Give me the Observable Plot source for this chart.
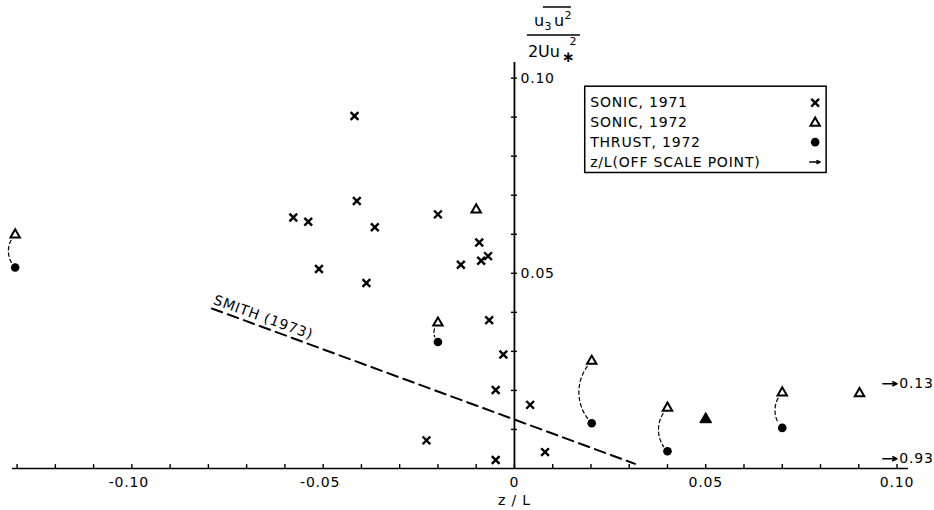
<!DOCTYPE html>
<html>
<head>
<meta charset="utf-8">
<script src="https://cdn.jsdelivr.net/npm/d3@7"></script>
<script src="https://cdn.jsdelivr.net/npm/@observablehq/plot@0.6"></script>
<style>
  html, body { margin: 0; padding: 0; background: #fff; }
</style>
</head>
<body>
<div id="chart"></div>
<script>
// ---------------- data ----------------
const sonic71Z = [-0.0418, -0.0578, -0.0539, -0.0412, -0.0365, -0.0511, -0.0387, -0.0200, -0.0092, -0.0140, -0.0087, -0.0069, -0.0066, -0.0029, -0.0049, -0.0230, -0.0049, 0.0041, 0.0080];
const sonic71V = [0.0903, 0.0643, 0.0632, 0.0685, 0.0618, 0.0511, 0.0475, 0.0651, 0.0579, 0.0522, 0.0532, 0.0544, 0.0380, 0.0292, 0.0201, 0.0072, 0.0022, 0.0163, 0.0042];

const sonic72Z = [-0.1305, -0.0100, -0.0200, 0.0202, 0.0400, 0.0700, 0.0902];
const sonic72V = [0.0599, 0.0663, 0.0373, 0.0275, 0.0155, 0.0194, 0.0192];

const thrust72Z = [-0.1305, -0.0200, 0.0202, 0.0400, 0.0700];
const thrust72V = [0.0515, 0.0324, 0.0116, 0.0044, 0.0104];

// SONIC 1972 and THRUST 1972 at the same spot (drawn as a filled triangle)
const coincidentZ = [0.0500];
const coincidentV = [0.0126];

const smithZ = [-0.0791, 0.0315];
const smithV = [0.0410, 0.0012];
const smithLabel = ["SMITH (1973)"];

const offScaleV = [0.0217, 0.0025];
const offScaleLabels = ["0.13", "0.93"];

const legendLabels = ["SONIC, 1971", "SONIC, 1972", "THRUST, 1972", "z/L(OFF SCALE POINT)"];

const xTickValues = [-0.13, -0.12, -0.11, -0.10, -0.09, -0.08, -0.07, -0.06, -0.05, -0.04, -0.03, -0.02, -0.01, 0, 0.01, 0.02, 0.03, 0.04, 0.05, 0.06, 0.07, 0.08, 0.09, 0.10];
const xTickLabelValues = [-0.10, -0.05, 0, 0.05, 0.10];
const xTickLabels = ["-0.10", "-0.05", "0", "0.05", "0.10"];
const yTickValues = [0.01, 0.02, 0.03, 0.04, 0.05, 0.06, 0.07, 0.08, 0.09, 0.10];
const yTickLabelValues = [0.05, 0.10];
const yTickLabels = ["0.05", "0.10"];
const xAxisLabel = ["z / L"];

// ---------------- build tables ----------------
const sonic71 = sonic71Z.map((z, i) => ({z, v: sonic71V[i]}));
const sonic72 = sonic72Z.map((z, i) => ({z, v: sonic72V[i]}));
const thrust72 = thrust72Z.map((z, i) => ({z, v: thrust72V[i]}));
const coincident = coincidentZ.map((z, i) => ({z, v: coincidentV[i]}));
const smith = smithZ.map((z, i) => ({z, v: smithV[i]}));
const pairs = thrust72.map(t => {
  const s = sonic72.find(d => d.z === t.z);
  return s ? {z: t.z, v1: s.v, v2: t.v} : null;
}).filter(Boolean);
const offScale = offScaleV.map((v, i) => ({v, label: offScaleLabels[i]}));
const xTickLabelData = xTickLabelValues.map((x, i) => ({x, label: xTickLabels[i]}));
const yTickLabelData = yTickLabelValues.map((y, i) => ({y, label: yTickLabels[i]}));

// ---------------- layout / style ----------------
const FONT = "DejaVu Sans";
const xDomain = [-0.1312, 0.103];
const yTop = 0.104;

const timesStyle = {symbol: "times", r: 3.6, stroke: "black", strokeWidth: 2.4};
const triStyle = {symbol: "triangle", r: 3.5, fill: "white", stroke: "black", strokeWidth: 2};
const dotStyle = {symbol: "circle", r: 4.3, fill: "black", stroke: "none"};

// legend placement (data units)
const legBox = {x1: 0.0185, x2: 0.0816, y1: 0.0757, y2: 0.0978};
const legRowV = [0.0937, 0.0885, 0.0836, 0.0785];
const legTextX = 0.0198;
const legSymX = 0.0786;

// y-axis title (a fraction) drawn relative to the y axis position
function yTitle(index, scales) {
  const x0 = scales.x(0);
  const g = d3.create("svg:g")
    .attr("font-family", FONT)
    .attr("fill", "black")
    .attr("text-anchor", "start")
    .style("letter-spacing", "0px");
  const t = (dx, y, s, size) => g.append("text")
    .attr("x", x0 + dx).attr("y", y).attr("font-size", size).text(s);
  t(20, 26, "u", 16);
  t(30.5, 30, "3", 11);
  t(40, 26, "u", 16);
  t(50.5, 19, "2", 11);
  g.append("line").attr("x1", x0 + 29).attr("x2", x0 + 57).attr("y1", 7).attr("y2", 7)
    .attr("stroke", "black").attr("stroke-width", 1.5);
  g.append("line").attr("x1", x0 + 13).attr("x2", x0 + 66).attr("y1", 35).attr("y2", 35)
    .attr("stroke", "black").attr("stroke-width", 1.5);
  t(14, 57, "2Uu", 16);
  t(48, 62, "\u2217", 15).attr("font-weight", "bold");
  t(55.5, 45, "2", 11);
  return g.node();
}

const chart = Plot.plot({
  width: 934,
  height: 510,
  marginLeft: 12,
  marginRight: 26,
  marginTop: 62,
  marginBottom: 42,
  x: {domain: xDomain, axis: null},
  y: {domain: [0, yTop], axis: null},
  style: {fontFamily: FONT, fontSize: "14px", letterSpacing: "0.8px", background: "white", color: "black", overflow: "visible"},
  marks: [
    // axes
    Plot.ruleY([0], {x1: xDomain[0], x2: xDomain[1], stroke: "black", strokeWidth: 1.6}),
    Plot.ruleX(xTickValues, {x: d => d, y1: 0, y2: 0.001, stroke: "black", strokeWidth: 1.4}),
    Plot.text(xTickLabelData.filter(d => d.x < 0), {x: "x", y: 0, text: "label", dy: 14, dx: -3, fontSize: 14, fill: "black"}),
    Plot.text(xTickLabelData.filter(d => d.x >= 0), {x: "x", y: 0, text: "label", dy: 14, fontSize: 14, fill: "black"}),
    Plot.text(xAxisLabel, {x: 0, y: 0, text: d => d, dy: 32, fontSize: 14, fill: "black"}),
    Plot.ruleX([0], {y1: 0, y2: yTop, stroke: "black", strokeWidth: 1.8}),
    Plot.ruleY(yTickValues, {y: d => d, x1: -0.0008, x2: 0.0008, stroke: "black", strokeWidth: 1.4}),
    Plot.text(yTickLabelData, {x: 0, y: "y", text: "label", dx: 6, textAnchor: "start", fontSize: 14, fill: "black"}),
    yTitle,

    // Smith (1973)
    Plot.line(smith, {x: "z", y: "v", stroke: "black", strokeWidth: 2, strokeDasharray: "11,6"}),
    Plot.text(smithLabel, {x: -0.0785, y: 0.0433, text: d => d, rotate: 20, textAnchor: "start", fontSize: 14, fill: "black"}),

    // connectors between SONIC 1972 and THRUST 1972 at the same run
    Plot.arrow(pairs, {x1: "z", y1: "v1", x2: "z", y2: "v2", bend: -45, headLength: 0,
      insetStart: 7, insetEnd: 6, stroke: "black", strokeWidth: 1.2, strokeDasharray: "3.5,3"}),

    // data points
    Plot.dot(sonic71, {x: "z", y: "v", ...timesStyle}),
    Plot.dot(sonic72, {x: "z", y: "v", ...triStyle}),
    Plot.dot(thrust72, {x: "z", y: "v", ...dotStyle}),
    Plot.dot(coincident, {x: "z", y: "v", symbol: "triangle", r: 4.4, fill: "black", stroke: "black", strokeWidth: 1}),

    // off-scale points
    Plot.arrow(offScale, {x1: 0.0963, x2: 0.1000, y1: "v", y2: "v", headLength: 6, headAngle: 50, stroke: "black", strokeWidth: 1.5}),
    Plot.text(offScale, {x: 0.1006, y: "v", text: "label", textAnchor: "start", fontSize: 14, fill: "black"}),

    // legend
    Plot.rect([0], {...legBox, fill: "white", stroke: "black", strokeWidth: 1.5}),
    Plot.text(legendLabels, {x: legTextX, y: (d, i) => legRowV[i], text: d => d, textAnchor: "start", fontSize: 14, fill: "black"}),
    Plot.dot([0], {x: legSymX, y: legRowV[0], ...timesStyle}),
    Plot.dot([0], {x: legSymX, y: legRowV[1], ...triStyle}),
    Plot.dot([0], {x: legSymX, y: legRowV[2], ...dotStyle}),
    Plot.arrow([0], {x1: legSymX - 0.0014, x2: legSymX + 0.0013, y1: legRowV[3], y2: legRowV[3], headLength: 5, headAngle: 50, stroke: "black", strokeWidth: 1.5})
  ]
});

document.getElementById("chart").appendChild(chart);
</script>
</body>
</html>
